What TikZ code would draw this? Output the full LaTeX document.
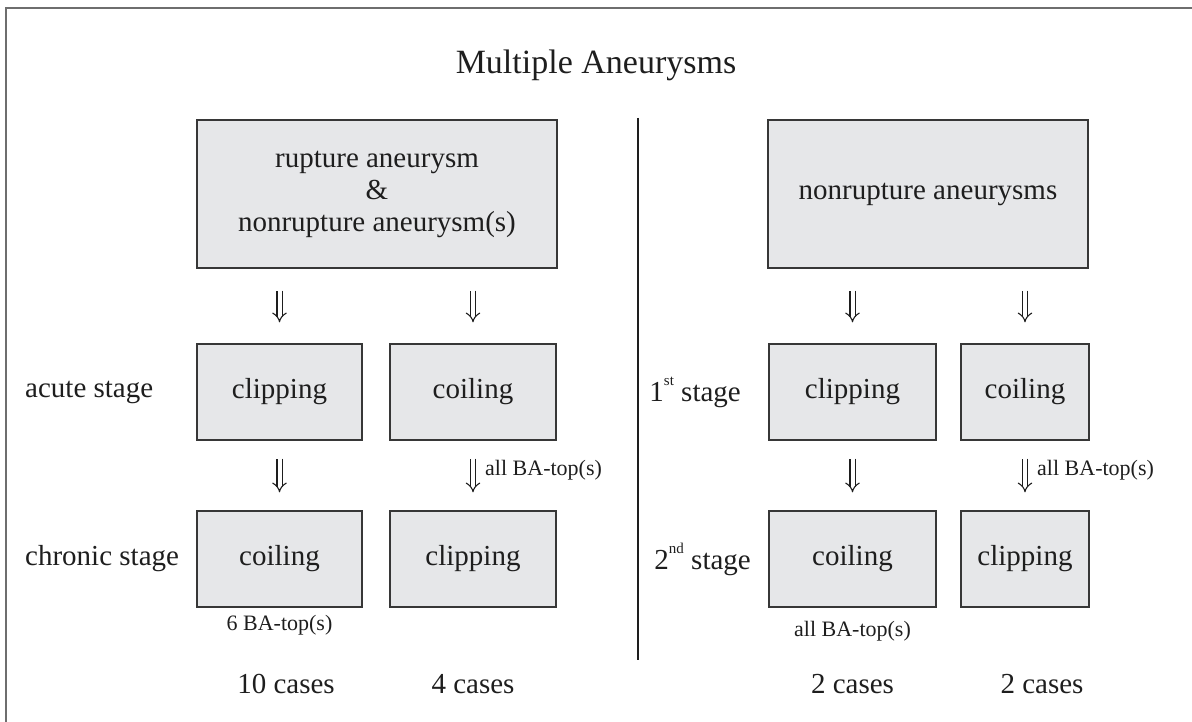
\documentclass[tikz,border=0pt]{standalone}
\usepackage{fontspec}
\setmainfont{Liberation Serif}
\usetikzlibrary{arrows.meta}
\definecolor{boxfill}{RGB}{230,231,233}
\definecolor{boxline}{RGB}{55,55,55}
\definecolor{framegray}{RGB}{110,110,110}
\definecolor{txt}{RGB}{30,30,30}
\newcommand{\mysup}[1]{\raisebox{0.55em}{\fontsize{15}{17}\selectfont #1}}
\begin{document}
\begin{tikzpicture}[x=1pt,y=-1pt,
  box/.style={draw=boxline, fill=boxfill, line width=1.3pt, inner sep=0pt,
    minimum height=96pt, text=txt, font=\fontsize{29}{33}\selectfont},
  lbl/.style={font=\fontsize{29}{33}\selectfont, inner sep=0pt, text=txt},
  small/.style={font=\fontsize{22}{26}\selectfont, inner sep=0pt, text=txt},
  dar/.style={double, double distance=4pt, line width=1.1pt, draw=txt, -{Implies}}]
\useasboundingbox (0,0) rectangle (1192,722);
\draw[framegray, line width=2pt] (6,740) -- (6,8) -- (1200,8);

\node[lbl, font=\fontsize{34}{38}\selectfont] (title) at (596,65) {Multiple Aneurysms};

% left half
\node[box, minimum width=360pt, minimum height=148pt, align=center] (big1) at (377,194)
  {rupture aneurysm\\[-1pt] \&\\[-1pt] nonrupture aneurysm(s)};
\node[box, minimum width=165pt] (a1) at (279.5,392) {clipping};
\node[box, minimum width=166pt] (a2) at (473,392) {coiling};
\node[box, minimum width=165pt] (c1) at (279.5,559) {coiling};
\node[box, minimum width=166pt] (c2) at (473,559) {clipping};

\node[lbl, anchor=west] (acute) at (25,392) {acute stage};
\node[lbl, anchor=west] (chronic) at (25,559) {chronic stage};

% right half
\node[box, minimum width=320pt, minimum height=148pt] (big2) at (928,194) {nonrupture aneurysms};
\node[box, minimum width=167pt] (r1) at (852.5,392) {clipping};
\node[box, minimum width=128pt] (r2) at (1025,392) {coiling};
\node[box, minimum width=167pt] (s1) at (852.5,559) {coiling};
\node[box, minimum width=128pt] (s2) at (1025,559) {clipping};

\node[lbl, anchor=east] (first) at (741,392) {1\mysup{st} stage};
\node[lbl, anchor=east] (second) at (751,559) {2\mysup{nd} stage};

% divider
\coordinate (dtop) at (638,118);
\coordinate (dbot) at (638,660);
\draw[line width=1.4pt, txt] (dtop) -- (dbot);

% arrows
\draw[dar] ([yshift=-22pt]big1.south -| a1.north) -- ([yshift=21pt]a1.north);
\draw[dar] ([yshift=-22pt]big1.south -| a2.north) -- ([yshift=21pt]a2.north);
\draw[dar] ([yshift=-18pt]a1.south) -- ([yshift=18pt]c1.north);
\draw[dar] ([yshift=-18pt]a2.south) -- ([yshift=18pt]c2.north);
\draw[dar] ([yshift=-22pt]big2.south -| r1.north) -- ([yshift=21pt]r1.north);
\draw[dar] ([yshift=-22pt]big2.south -| r2.north) -- ([yshift=21pt]r2.north);
\draw[dar] ([yshift=-18pt]r1.south) -- ([yshift=18pt]s1.north);
\draw[dar] ([yshift=-18pt]r2.south) -- ([yshift=18pt]s2.north);

% small notes
\node[small, anchor=west] (n1) at ([xshift=12pt,yshift=-30pt]a2.south) {all BA-top(s)};
\node[small, anchor=west] (n2) at ([xshift=12pt,yshift=-30pt]r2.south) {all BA-top(s)};
\node[small] (n3) at ([yshift=-18pt]c1.south) {6 BA-top(s)};
\node[small] (n4) at ([yshift=-24pt]s1.south) {all BA-top(s)};

% counts
\node[lbl] (k1) at (286,684) {10 cases};
\node[lbl] (k2) at (473,684) {4 cases};
\node[lbl] (k3) at (852.5,684) {2 cases};
\node[lbl] (k4) at (1042,684) {2 cases};
\end{tikzpicture}
\end{document}
